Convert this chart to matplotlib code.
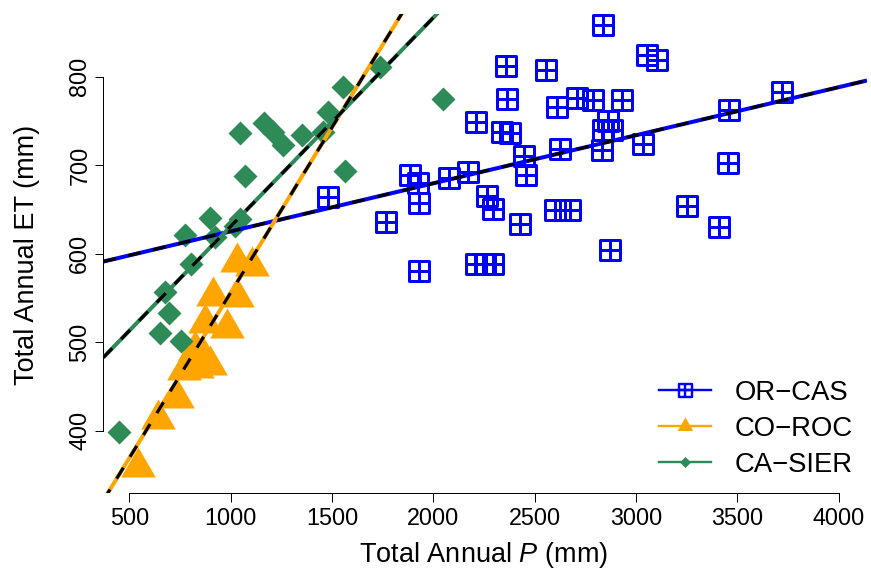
import numpy as np
import matplotlib
matplotlib.use('Agg')
import matplotlib.pyplot as plt
from matplotlib.path import Path
from matplotlib.lines import Line2D

plt.rcParams['font.family'] = ['Liberation Sans', 'DejaVu Sans']
plt.rcParams['mathtext.fontset'] = 'custom'
plt.rcParams['mathtext.it'] = 'Liberation Sans:italic'
plt.rcParams['mathtext.rm'] = 'Liberation Sans'

# ---------------- data ----------------
series_names = ['OR\u2212CAS', 'CO\u2212ROC', 'CA\u2212SIER']
series_colors = ['#0000FF', '#FFA500', '#2E8B57']

or_cas_p = [1479, 1765, 1885, 1926, 1931, 2079, 2173, 1930, 2211, 2359, 2362, 2338,
            2379, 2264, 2293, 2211, 2254, 2297, 2428, 2457, 2448, 2556, 2839, 3053,
            3102, 2612, 2711, 2790, 2930, 2864, 2839, 2880, 2831, 2625, 3033, 3459,
            3722, 3453, 3250, 3411, 2872, 2600, 2675]
or_cas_et = [664, 636, 689, 680, 657, 685, 692, 581, 749, 812, 775, 737,
             736, 665, 651, 588, 588, 588, 634, 689, 710, 808, 858, 825,
             819, 766, 776, 774, 774, 750, 740, 740, 717, 718, 724, 762,
             783, 702, 654, 630, 604, 649, 649]

co_roc_p = [545, 644, 734, 770, 835, 899, 864, 874, 913, 983, 1032, 1032, 1106, 825]
co_roc_et = [359, 413, 437, 469, 471, 474, 484, 522, 552, 516, 551, 591, 586, 491]

ca_sier_p = [450, 652, 696, 677, 756, 807, 775, 899, 1047, 923, 1022, 1047, 1071,
             1166, 1211, 1260, 1352, 1458, 1482, 1553, 1565, 1737, 2047]
ca_sier_et = [398, 510, 533, 557, 501, 588, 621, 640, 639, 619, 631, 736, 688,
              748, 738, 723, 734, 738, 760, 788, 693, 811, 775]

# fitted regression lines (intercept, slope)
fit_intercept = [570.9, 182.3, 395.0]
fit_slope = [0.0543, 0.3735, 0.2358]

x_ticks = [500, 1000, 1500, 2000, 2500, 3000, 3500, 4000]
y_ticks = [400, 500, 600, 700, 800]

# ---------------- markers ----------------
sq_marker = Path([(-1, -1), (1, -1), (1, 1), (-1, 1), (-1, -1),
                  (0, -1), (0, 1), (-1, 0), (1, 0)],
                 [Path.MOVETO, Path.LINETO, Path.LINETO, Path.LINETO, Path.CLOSEPOLY,
                  Path.MOVETO, Path.LINETO, Path.MOVETO, Path.LINETO])
tri_marker = Path([(0, 1), (0.8660254, -0.5), (-0.8660254, -0.5), (0, 1)],
                  [Path.MOVETO, Path.LINETO, Path.LINETO, Path.CLOSEPOLY])
dia_marker = Path([(0, 1), (1, 0), (0, -1), (-1, 0), (0, 1)],
                  [Path.MOVETO, Path.LINETO, Path.LINETO, Path.LINETO, Path.CLOSEPOLY])

PX = 0.72  # points per pixel at 100 dpi

fig = plt.figure(figsize=(8.71, 5.77), dpi=100)
L, R, T, B = 103.3, 867, 14, 493.3
ax = fig.add_axes([L / 871, 1 - B / 577, (R - L) / 871, (B - T) / 577])

ax.set_xlim(372, 4140)
ax.set_ylim(329.3, 870.8)

ax.plot(or_cas_p, or_cas_et, ls='none', marker=sq_marker, ms=19.5 * PX,
        mfc='none', mec=series_colors[0], mew=3.0 * PX, zorder=3)
ax.plot(co_roc_p, co_roc_et, ls='none', marker=tri_marker, ms=40 * PX,
        mfc=series_colors[1], mec=series_colors[1], mew=0, zorder=3)
ax.plot(ca_sier_p, ca_sier_et, ls='none', marker=dia_marker, ms=24 * PX,
        mfc=series_colors[2], mec=series_colors[2], mew=0, zorder=3)

xx = np.array(ax.get_xlim())
for a, b, c in zip(fit_intercept, fit_slope, series_colors):
    ax.plot(xx, a + b * xx, color=c, lw=4.0 * PX, solid_capstyle='butt', zorder=4)
    ax.plot(xx, a + b * xx, color='black', lw=3.2 * PX, dashes=(4, 4),
            dash_capstyle='butt', zorder=5)
ax.set_xlim(372, 4140)
ax.set_ylim(329.3, 870.8)

for s in ['top', 'right']:
    ax.spines[s].set_visible(False)
ax.spines['left'].set_bounds(400, 800)
ax.spines['bottom'].set_bounds(500, 4000)
for s in ['left', 'bottom']:
    ax.spines[s].set_linewidth(1.0 * PX)
ax.set_xticks(x_ticks)
ax.set_yticks(y_ticks)
ax.set_xticklabels([str(v) for v in x_ticks])
ax.set_yticklabels([str(v) for v in y_ticks])
ax.tick_params(direction='out', length=8.5 * PX, width=1.0 * PX, labelsize=16.8)
ax.tick_params(axis='x', pad=4.0)
ax.tick_params(axis='y', pad=2.5, labelrotation=90)
for lbl in ax.get_yticklabels():
    lbl.set_va('center')

fig.text(484 / 871, 1 - 555 / 577, 'Total Annual $P$ (mm)', ha='center', va='center',
         fontsize=19.5)
fig.text(27 / 871, 1 - 255 / 577, 'Total Annual ET (mm)', ha='center', va='center',
         rotation=90, fontsize=19.5)

handles = [
    Line2D([], [], color=series_colors[0], lw=2.4 * PX, marker=sq_marker, ms=13 * PX,
           mfc='none', mec=series_colors[0], mew=2.4 * PX),
    Line2D([], [], color=series_colors[1], lw=2.4 * PX, marker=tri_marker, ms=18 * PX,
           mfc=series_colors[1], mec=series_colors[1], mew=0),
    Line2D([], [], color=series_colors[2], lw=2.4 * PX, marker=dia_marker, ms=11 * PX,
           mfc=series_colors[2], mec=series_colors[2], mew=0),
]
fig.legend(handles, series_names, loc='upper left',
           bbox_to_anchor=(659 / 871, 1 - 380 / 577), bbox_transform=fig.transFigure,
           frameon=False, fontsize=19.8, handlelength=1.9, handletextpad=0.85,
           labelspacing=0.36, borderpad=0, borderaxespad=0, numpoints=1)

fig.savefig('out.png', dpi=100)
